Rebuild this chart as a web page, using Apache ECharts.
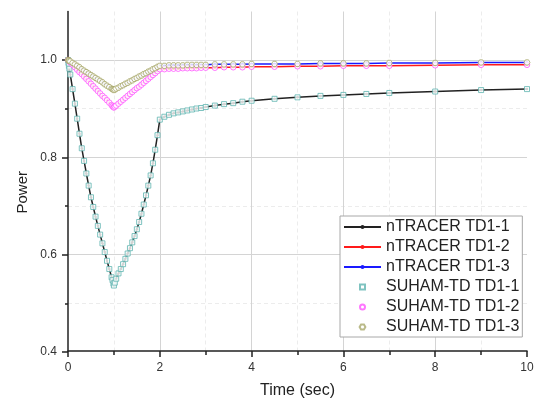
<!DOCTYPE html>
<html>
<head>
<meta charset="utf-8">
<script src="https://cdn.jsdelivr.net/npm/echarts@6/dist/echarts.min.js"></script>
<style>
  html, body { margin: 0; padding: 0; background: #fff; }
  #chart { width: 539px; height: 404px; }
</style>
</head>
<body>
<div id="chart"></div>
<script>
// Time points (sec)
const times = [
  0, 0.01, 0.02, 0.03, 0.05,
  0.1, 0.15, 0.2, 0.25, 0.3, 0.35, 0.4, 0.45, 0.5, 0.55, 0.6, 0.65, 0.7, 0.75, 0.8, 0.85, 0.9, 0.95,
  0.97, 0.99, 1.0,
  1.02, 1.05,
  1.1, 1.15, 1.2, 1.25, 1.3, 1.35, 1.4, 1.45, 1.5, 1.55, 1.6, 1.65, 1.7, 1.75, 1.8, 1.85, 1.9, 1.95, 2.0,
  2.1, 2.2, 2.3, 2.4, 2.5, 2.6, 2.7, 2.8, 2.9, 3.0,
  3.2, 3.4, 3.6, 3.8, 4.0,
  4.5, 5.0, 5.5, 6.0, 6.5, 7.0,
  8.0, 9.0, 10.0
];

// Normalized power, case TD1-1
const powerTD1_1 = [
  1.000, 0.994, 0.988, 0.982, 0.970,
  0.940, 0.910, 0.879, 0.848, 0.818, 0.792, 0.766, 0.741, 0.717, 0.697, 0.677, 0.658, 0.640, 0.622, 0.604, 0.586, 0.569, 0.552,
  0.546, 0.539, 0.535,
  0.541, 0.549,
  0.560, 0.569, 0.579, 0.590, 0.601, 0.612, 0.624, 0.637, 0.651, 0.666, 0.683, 0.702, 0.721, 0.741, 0.762, 0.787, 0.815, 0.845, 0.877,
  0.883, 0.887, 0.890, 0.892, 0.894, 0.896, 0.898, 0.900, 0.901, 0.903,
  0.906, 0.909, 0.911, 0.914, 0.916,
  0.920, 0.923, 0.926, 0.928, 0.930, 0.932,
  0.935, 0.938, 0.940
];

// Normalized power, case TD1-2
const powerTD1_2 = [
  1.000, 0.999, 0.998, 0.997, 0.995,
  0.990, 0.985, 0.980, 0.975, 0.971, 0.966, 0.961, 0.956, 0.951, 0.946, 0.941, 0.936, 0.931, 0.926, 0.922, 0.917, 0.912, 0.907,
  0.905, 0.903, 0.902,
  0.904, 0.906,
  0.910, 0.914, 0.918, 0.922, 0.926, 0.930, 0.934, 0.938, 0.942, 0.945, 0.949, 0.953, 0.957, 0.961, 0.965, 0.969, 0.973, 0.977, 0.981,
  0.981, 0.982, 0.982, 0.982, 0.983, 0.983, 0.983, 0.983, 0.984, 0.984,
  0.984, 0.985, 0.985, 0.985, 0.986,
  0.986, 0.987, 0.987, 0.988, 0.988, 0.988,
  0.989, 0.990, 0.990
];

// Normalized power, case TD1-3
const powerTD1_3 = [
  1.000, 0.999, 0.999, 0.998, 0.997,
  0.994, 0.991, 0.988, 0.985, 0.981, 0.978, 0.975, 0.972, 0.969, 0.966, 0.963, 0.960, 0.957, 0.954, 0.950, 0.947, 0.944, 0.941,
  0.940, 0.939, 0.938,
  0.939, 0.941,
  0.943, 0.946, 0.948, 0.951, 0.953, 0.956, 0.958, 0.961, 0.963, 0.966, 0.968, 0.971, 0.973, 0.976, 0.978, 0.981, 0.983, 0.986, 0.988,
  0.988, 0.989, 0.989, 0.989, 0.989, 0.990, 0.990, 0.990, 0.990, 0.990,
  0.991, 0.991, 0.991, 0.991, 0.992,
  0.992, 0.992, 0.993, 0.993, 0.993, 0.994,
  0.994, 0.995, 0.995
];

const seriesNames = [
  'nTRACER TD1-1', 'nTRACER TD1-2', 'nTRACER TD1-3',
  'SUHAM-TD TD1-1', 'SUHAM-TD TD1-2', 'SUHAM-TD TD1-3'
];

const FONT = '"Liberation Sans", Arial, sans-serif';
const pairs = vals => times.map((t, i) => [t, vals[i]]);
const square = 'path://M0,0 L1,0 L1,1 L0,1 Z';
const hexagon = 'path://M1,0 L3,0 L4,1.732 L3,3.464 L1,3.464 L0,1.732 Z';

function lineSeries(name, vals, color) {
  return {
    name, type: 'line', xAxisIndex: 0, yAxisIndex: 0,
    data: pairs(vals),
    symbol: 'circle', symbolSize: 2.5, showSymbol: true,
    lineStyle: { color, width: 1.5 },
    itemStyle: { color },
    z: 2
  };
}
function markerSeries(name, vals, color, symbol, size) {
  return {
    name, type: 'scatter', xAxisIndex: 0, yAxisIndex: 0,
    data: pairs(vals),
    symbol, symbolSize: size, symbolKeepAspect: true,
    itemStyle: { color: '#ffffff', borderColor: color, borderWidth: 1 },
    z: 3
  };
}

const chart = echarts.init(document.getElementById('chart'), null, { renderer: 'canvas' });
chart.setOption({
  animation: false,
  backgroundColor: '#ffffff',
  textStyle: { fontFamily: FONT },
  grid: [
    { left: 68, right: 12, top: 11.5, bottom: 52 },
    { left: 68, right: 12, top: 60.1, bottom: 52 }
  ],
  xAxis: [
    {
      gridIndex: 0, type: 'value', min: 0, max: 10, interval: 2,
      name: 'Time (sec)', nameLocation: 'middle', nameGap: 32,
      nameTextStyle: { fontSize: 16, color: '#222', fontFamily: FONT },
      axisLine: { show: true, onZero: false, lineStyle: { color: '#222', width: 1.5 } },
      axisTick: { show: true, inside: false, length: 6, lineStyle: { color: '#222', width: 1.5 } },
      minorTick: { show: true, splitNumber: 2, length: 4, lineStyle: { color: '#222', width: 1.5 } },
      axisLabel: { fontSize: 12, color: '#333', margin: 11, fontFamily: FONT },
      splitLine: { show: true, showMinLine: false, showMaxLine: false, lineStyle: { color: '#d4d4d4', width: 1 } },
      minorSplitLine: { show: true, lineStyle: { color: '#ececec', width: 1, type: [4, 3] } }
    },
    { gridIndex: 1, type: 'value', min: 0, max: 10, show: false }
  ],
  yAxis: [
    {
      gridIndex: 0, type: 'value', min: 0.4, max: 1.1,
      name: 'Power', nameLocation: 'middle', nameGap: 38, nameRotate: 90,
      nameTextStyle: { fontSize: 15, color: '#222', fontFamily: FONT, padding: [0, 22, 0, 0] },
      axisLine: { show: true, onZero: false, lineStyle: { color: '#222', width: 1.5 } },
      axisTick: { show: false },
      axisLabel: { show: false },
      splitLine: { show: false }
    },
    {
      gridIndex: 1, type: 'value', min: 0.4, max: 1.0, interval: 0.2,
      axisLine: { show: false },
      axisTick: { show: true, inside: false, length: 6, lineStyle: { color: '#222', width: 1.5 } },
      minorTick: { show: true, splitNumber: 2, length: 3, lineStyle: { color: '#222', width: 1.5 } },
      axisLabel: { fontSize: 12, color: '#333', margin: 11, fontFamily: FONT,
                   formatter: v => v.toFixed(1) },
      splitLine: { show: true, showMinLine: false, lineStyle: { color: '#d4d4d4', width: 1 } },
      minorSplitLine: { show: true, lineStyle: { color: '#ececec', width: 1, type: [4, 3] } }
    }
  ],
  legend: {
    orient: 'vertical', left: 340, top: 216,
    padding: [3, 3, 2, 3],
    itemWidth: 37, itemHeight: 5, itemGap: 4,
    symbolKeepAspect: true,
    backgroundColor: '#ffffff',
    borderColor: '#a8a8a8', borderWidth: 1,
    textStyle: { fontSize: 16, lineHeight: 16, color: '#222', fontFamily: FONT },
    data: seriesNames
  },
  series: [
    lineSeries(seriesNames[0], powerTD1_1, '#222222'),
    lineSeries(seriesNames[1], powerTD1_2, '#ff1a1a'),
    lineSeries(seriesNames[2], powerTD1_3, '#1a1aff'),
    markerSeries(seriesNames[3], powerTD1_1, '#5fb4b0', square, 5),
    markerSeries(seriesNames[4], powerTD1_2, '#ff55ff', 'circle', 5.5),
    markerSeries(seriesNames[5], powerTD1_3, '#a9a96b', hexagon, 6)
  ]
});
</script>
</body>
</html>
